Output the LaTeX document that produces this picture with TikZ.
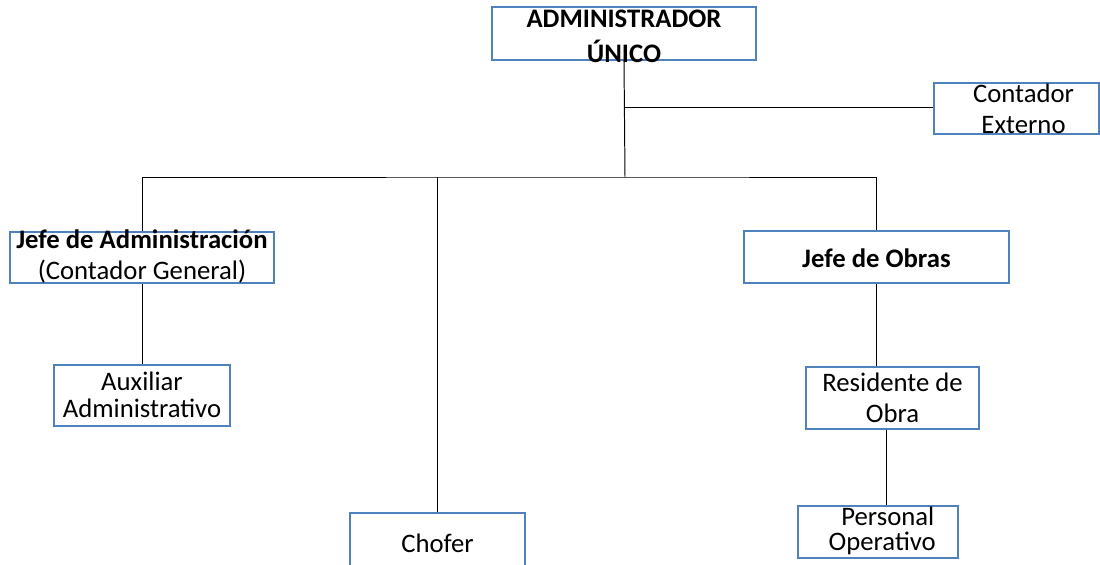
\documentclass[tikz,border=0pt]{standalone}
\usepackage{fontspec}
\setmainfont{Carlito}
\usetikzlibrary{calc}
\definecolor{azul}{HTML}{4F81BD}

% node text: zero-size block, shifted down a bit
\newcommand{\rotulo}[2][-7pt]{\raisebox{#1}[0pt][0pt]{\begin{tabular}{@{}c@{}}#2\end{tabular}}}

\tikzset{
  caja/.style 2 args={draw=azul, line width=0.8pt, inner sep=0pt,
    minimum width=#1*0.025cm, minimum height=#2*0.025cm},
  linea/.style={draw=black, line width=0.7pt}
}

\begin{document}
\begin{tikzpicture}[x=0.025cm, y=-0.025cm, font=\fontsize{19}{22}\selectfont]
  \useasboundingbox (0,0) rectangle (1100,565);
  % Boxes
  \node[caja={264}{53}] (admin) at (624,33.5) {\rotulo[-8pt]{\textbf{ADMINISTRADOR}\\[2pt]\textbf{ÚNICO}}};
  \node[caja={165}{51}] (contador) at (1016.5,108.5) {\rotulo[-7pt]{\hspace*{10pt}Contador\\\hspace*{10pt}Externo}};
  \node[caja={264}{51}] (jadm) at (142,257.5) {\rotulo[-4.5pt]{\textbf{Jefe de Administración}\\(Contador General)}};
  \node[caja={265}{52}] (jobras) at (876.5,257) {\rotulo[-7.5pt]{\textbf{Jefe de Obras}}};
  \node[caja={176}{61}] (aux) at (142,395.5) {\rotulo[-6pt]{Auxiliar\\[-3pt]Administrativo}};
  \node[caja={173}{62}] (residente) at (892.5,398) {\rotulo[-6pt]{Residente de\\Obra}};
  \node[caja={160}{52}] (personal) at (878,532) {\rotulo[-4pt]{\hspace*{14pt}Personal\\[-4pt]\hspace*{6pt}Operativo}};
  \node[caja={175}{60}] (chofer) at (437.5,543) {\rotulo[-7pt]{Chofer}};
  % Connectors
  \coordinate (rama) at (625,107);
  \coordinate (bus) at (625,177);
  \draw[linea] (admin.south) -- (bus);
  \draw[linea] (rama) -- (contador.west |- rama);
  \draw[linea] (jadm.north) |- (bus) -| (jobras.north);
  \draw[linea] (chofer.north) -- (chofer.north |- bus);
  \draw[linea] (jadm.south) -- (aux.north);
  \draw[linea] (jobras.south) -- (jobras.south |- residente.north);
  \draw[linea] ($(residente.south)+(-6.5,0)$) -- ($(personal.north)+(8,0)$);
\end{tikzpicture}
\end{document}
